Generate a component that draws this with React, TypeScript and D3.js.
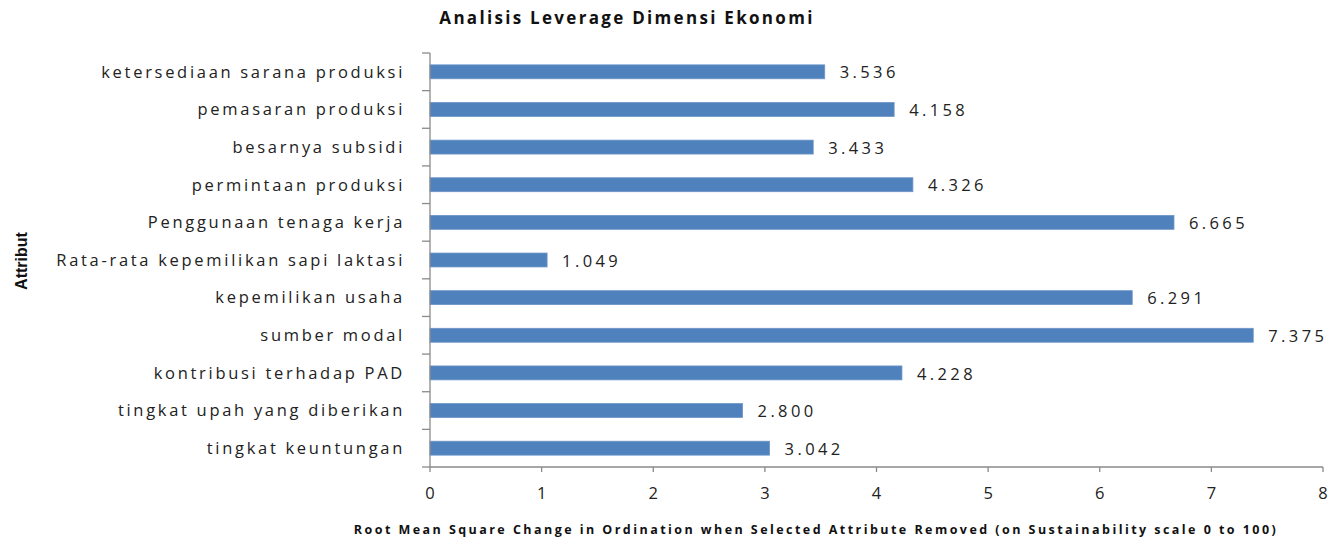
import React from "react";
import * as d3 from "d3";

const categories = [
  "ketersediaan sarana produksi",
  "pemasaran produksi",
  "besarnya subsidi",
  "permintaan produksi",
  "Penggunaan tenaga kerja",
  "Rata-rata kepemilikan sapi laktasi",
  "kepemilikan usaha",
  "sumber modal",
  "kontribusi terhadap PAD",
  "tingkat upah yang diberikan",
  "tingkat keuntungan",
];
const values = [3.536, 4.158, 3.433, 4.326, 6.665, 1.049, 6.291, 7.375, 4.228, 2.8, 3.042];
const xTicks = [0, 1, 2, 3, 4, 5, 6, 7, 8];
const title = "Analisis Leverage Dimensi Ekonomi";
const xTitle = "Root Mean Square Change in Ordination when Selected Attribute Removed (on Sustainability scale 0 to 100)";
const yTitle = "Attribut";

const W = 1344, H = 539;
const left = 430, right = 1323, top = 53, bottom = 467;

export default function App() {
  const x = d3.scaleLinear().domain([0, 8]).range([left, right]);
  const y = d3.scaleBand().domain(categories).range([top, bottom]).paddingInner(0.63).paddingOuter(0.315);
  const step = (bottom - top) / categories.length;
  const axisColor = "#8a8a8a";
  const font = "'Open Sans', sans-serif";
  return (
    <svg width={W} height={H} style={{ position: "absolute", left: 0, top: 0, background: "#fff" }}>
      <text x={627} y={24} textAnchor="middle" fontFamily={font} fontWeight="bold" fontSize={17} fill="#111" letterSpacing={2.3}>
        {title}
      </text>
      <text transform={`translate(27,261) rotate(-90)`} textAnchor="middle" fontFamily="'Liberation Sans Narrow', 'Liberation Sans', sans-serif" fontWeight="bold" fontSize={16} fill="#111">
        {yTitle}
      </text>
      {categories.map((c, i) => (
        <g key={c}>
          <rect x={x(0)} y={y(c)!} width={x(values[i]) - x(0)} height={y.bandwidth()} fill="#4F81BD" stroke="#6d95c8" strokeWidth={0.8} />
          <text x={405} y={y(c)! + y.bandwidth() / 2} dy="0.35em" textAnchor="end" fontFamily={font} fontSize={16.5} fill="#222" letterSpacing={2.7}>
            {c}
          </text>
          <text x={x(values[i]) + 15} y={y(c)! + y.bandwidth() / 2} dy="0.4em" fontFamily={font} fontSize={16.5} fill="#222" letterSpacing={3.4}>
            {d3.format(".3f")(values[i])}
          </text>
        </g>
      ))}
      <line x1={left} x2={left} y1={top} y2={bottom} stroke={axisColor} strokeWidth={1.3} />
      {d3.range(categories.length + 1).map((i) => (
        <line key={i} x1={left - 8} x2={left} y1={top + i * step} y2={top + i * step} stroke={axisColor} strokeWidth={1.3} />
      ))}
      <line x1={left} x2={right} y1={bottom} y2={bottom} stroke={axisColor} strokeWidth={1.3} />
      {xTicks.map((t) => (
        <g key={t}>
          <line x1={x(t)} x2={x(t)} y1={bottom} y2={bottom + 5} stroke={axisColor} strokeWidth={1.3} />
          <text x={x(t)} y={499} textAnchor="middle" fontFamily={font} fontSize={16.5} fill="#222">
            {t}
          </text>
        </g>
      ))}
      <text x={816} y={534} textAnchor="middle" fontFamily={font} fontWeight="bold" fontSize={12.5} fill="#111" letterSpacing={2.45}>
        {xTitle}
      </text>
    </svg>
  );
}
